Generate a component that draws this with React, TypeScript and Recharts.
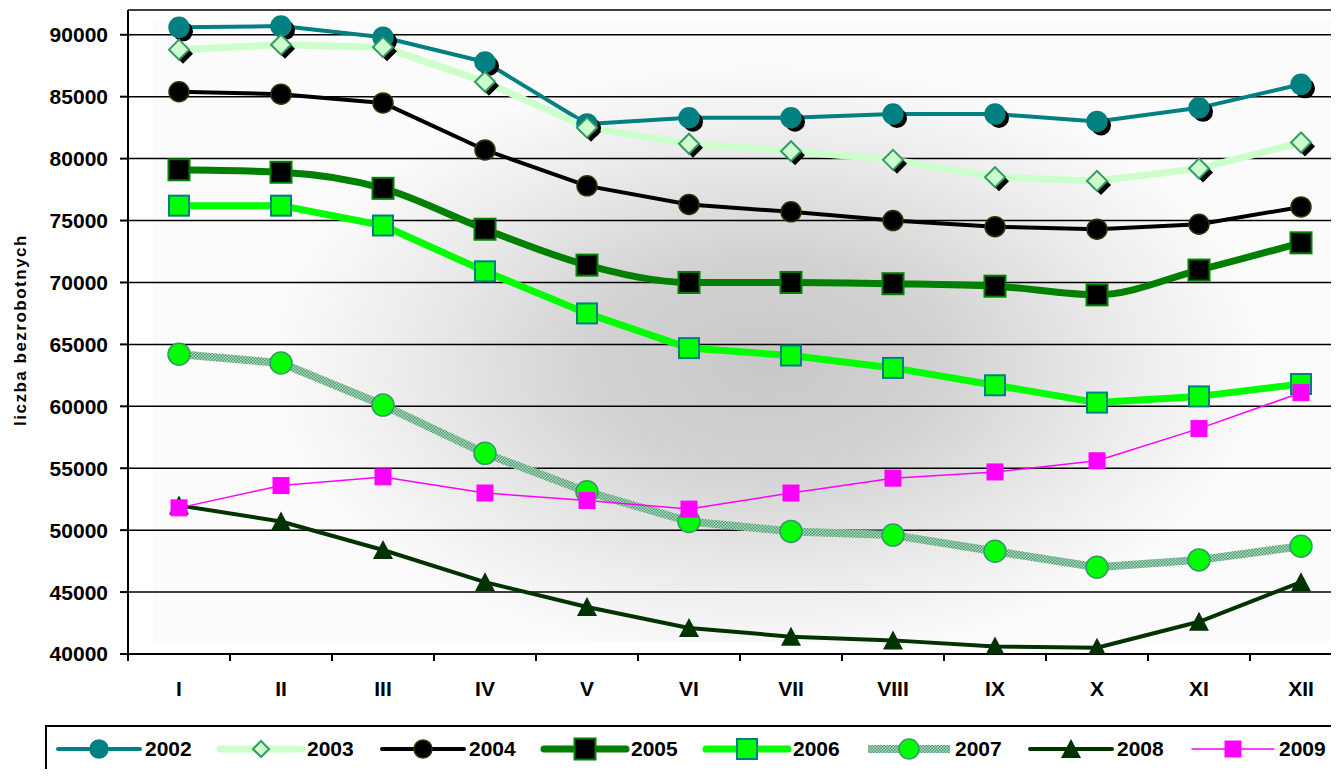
import React from "react";
import { LineChart, Line, XAxis, YAxis, CartesianGrid } from "recharts";

const months = ["I", "II", "III", "IV", "V", "VI", "VII", "VIII", "IX", "X", "XI", "XII"];
const yTicks = [40000, 45000, 50000, 55000, 60000, 65000, 70000, 75000, 80000, 85000, 90000];

const s2002 = [90600, 90700, 89800, 87800, 82800, 83300, 83300, 83600, 83600, 83000, 84100, 86000];
const s2003 = [88800, 89200, 89000, 86200, 82500, 81200, 80600, 79900, 78500, 78200, 79200, 81300];
const s2004 = [85400, 85200, 84500, 80700, 77800, 76300, 75700, 75000, 74500, 74300, 74700, 76100];
const s2005 = [79100, 78900, 77600, 74300, 71400, 70000, 70000, 69900, 69700, 69000, 71000, 73200];
const s2006 = [76200, 76200, 74600, 70900, 67500, 64700, 64100, 63100, 61700, 60300, 60800, 61800];
const s2007 = [64200, 63500, 60100, 56200, 53100, 50700, 49900, 49600, 48300, 47000, 47600, 48700];
const s2008 = [52000, 50700, 48400, 45800, 43800, 42100, 41400, 41100, 40600, 40500, 42600, 45800];
const s2009 = [51800, 53600, 54300, 53000, 52400, 51700, 53000, 54200, 54700, 55600, 58200, 61100];

const data = months.map((label, i) => ({
  m: i,
  label,
  y2002: s2002[i],
  y2003: s2003[i],
  y2004: s2004[i],
  y2005: s2005[i],
  y2006: s2006[i],
  y2007: s2007[i],
  y2008: s2008[i],
  y2009: s2009[i],
}));

// boundary ticks between months plus month centres
const xTicks: number[] = [];
months.forEach((_, i) => {
  xTicks.push(i - 0.5);
  xTicks.push(i);
});
xTicks.push(months.length - 0.5);

const FONT = '"Liberation Sans", Arial, sans-serif';

type Marker = (cx: number, cy: number, k?: any, small?: boolean) => React.ReactElement;

const circle = (fill: string, stroke: string, r: number, shadow: boolean): Marker => (cx, cy, k, small) => (
  <g key={k}>
    {shadow && !small && <circle cx={cx + 4} cy={cy + 4} r={r} fill="#000" />}
    <circle cx={cx} cy={cy} r={small ? r - 1 : r} fill={fill} stroke={stroke} strokeWidth={1.5} />
  </g>
);

const diamond: Marker = (cx, cy, k, small) => {
  const h = small ? 8 : 10;
  const pts = (x: number, y: number) => `${x},${y - h} ${x + h},${y} ${x},${y + h} ${x - h},${y}`;
  return (
    <g key={k}>
      {!small && <polygon points={pts(cx + 4, cy + 4)} fill="#000" />}
      <polygon points={pts(cx, cy)} fill="#ccffcc" stroke="#339966" strokeWidth={2} />
    </g>
  );
};

const square = (fill: string, stroke: string, size: number, sw: number): Marker => (cx, cy, k) => (
  <rect key={k} x={cx - size / 2} y={cy - size / 2} width={size} height={size} fill={fill} stroke={stroke} strokeWidth={sw} />
);

const triangle: Marker = (cx, cy, k) => (
  <polygon key={k} points={`${cx},${cy - 10} ${cx + 10},${cy + 9} ${cx - 10},${cy + 9}`} fill="#003300" />
);

const series = [
  { key: "y2002", name: "2002", color: "#008080", width: 4, marker: circle("#008080", "#008080", 10, true) },
  { key: "y2003", name: "2003", color: "#ccffcc", width: 7, marker: diamond },
  { key: "y2004", name: "2004", color: "#000000", width: 4, marker: circle("#000000", "#333300", 10, false) },
  { key: "y2005", name: "2005", color: "#008000", width: 7, marker: square("#000000", "#008000", 21, 2), curve: "monotone" },
  { key: "y2006", name: "2006", color: "#00ff00", width: 7, marker: square("#00ff00", "#008080", 20, 2) },
  { key: "y2007", name: "2007", color: "url(#p2007)", width: 8, marker: circle("#00ff00", "#339966", 11, false) },
  { key: "y2008", name: "2008", color: "#003300", width: 4, marker: triangle },
  { key: "y2009", name: "2009", color: "#ff00ff", width: 1.5, marker: square("#ff00ff", "#ff00ff", 16, 1) },
];

const XTick = (props: any) => {
  const { x, y, payload } = props;
  const v = payload.value;
  if (!Number.isInteger(v)) {
    return <line x1={x} x2={x} y1={y} y2={y + 7} stroke="#000" strokeWidth={2} />;
  }
  return (
    <text x={x} y={y + 27} dy="0.71em" textAnchor="middle" fontFamily={FONT} fontWeight="bold" fontSize={21} fill="#000">
      {months[v]}
    </text>
  );
};

const Legend = () => (
  <div
    style={{
      position: "absolute",
      left: 45,
      top: 725,
      width: 1287,
      height: 44,
      border: "2px solid #000",
      boxShadow: "3px 3px 0 #000",
      background: "#fff",
      display: "flex",
      alignItems: "center",
      paddingLeft: 7,
      boxSizing: "content-box",
    }}
  >
    {series.map((s) => (
      <div key={s.key} style={{ width: 162, display: "flex", alignItems: "center", flexShrink: 0 }}>
        <svg width={90} height={24} style={{ display: "block" }}>
          <line x1={4} x2={86} y1={12} y2={12} stroke={s.color} strokeWidth={s.width} strokeLinecap={s.key === "y2007" ? "butt" : "round"} />
          {s.marker(45, 12, undefined, true)}
        </svg>
        <span style={{ fontFamily: FONT, fontWeight: "bold", fontSize: 21, color: "#000", marginLeft: 1 }}>{s.name}</span>
      </div>
    ))}
  </div>
);

export default function App() {
  return (
    <div style={{ position: "relative", margin: -8, width: 1339, height: 777, overflow: "hidden", background: "#fff" }}>
      <svg width={0} height={0} style={{ position: "absolute" }}>
        <defs>
          <pattern id="p2007" width={3} height={3} patternUnits="userSpaceOnUse">
            <rect width={3} height={3} fill="#b4dcc4" />
            <rect width={1.5} height={1.5} fill="#4a9a6c" />
            <rect x={1.5} y={1.5} width={1.5} height={1.5} fill="#4a9a6c" />
          </pattern>
        </defs>
      </svg>
      <div
        style={{
          position: "absolute",
          left: 153,
          top: 20,
          width: 1180,
          height: 622,
          background: "radial-gradient(ellipse 42% 48% at 52% 55%, #c8c8c8 0%, #d2d2d2 35%, #ebebeb 72%, #fbfbfb 100%)",
        }}
      />
      <div style={{ position: "absolute", left: 0, top: 0 }}>
        <LineChart width={1360} height={714} data={data} margin={{ top: 10, right: 8, bottom: 0, left: 0 }}>
          <CartesianGrid vertical={false} stroke="#000" strokeWidth={1.5} />
          <XAxis
            dataKey="m"
            type="number"
            domain={[-0.5, months.length - 0.5]}
            ticks={xTicks}
            interval={0}
            allowDataOverflow
            height={60}
            tickLine={false}
            tickSize={0}
            tickMargin={0}
            axisLine={{ stroke: "#000", strokeWidth: 2 }}
            tick={<XTick />}
          />
          <YAxis
            type="number"
            domain={[40000, 92000]}
            ticks={yTicks}
            interval={0}
            allowDataOverflow
            width={128}
            tickSize={8}
            tickMargin={12}
            tickLine={{ stroke: "#000", strokeWidth: 2 }}
            axisLine={{ stroke: "#000", strokeWidth: 2 }}
            tick={{ fontFamily: FONT, fontWeight: "bold", fontSize: 21, fill: "#000" }}
          />
          {series.map((s) => (
            <Line
              key={s.key}
              dataKey={s.key}
              name={s.name}
              type={(s as any).curve || "linear"}
              stroke={s.color}
              strokeWidth={s.width}
              strokeLinejoin="round"
              isAnimationActive={false}
              activeDot={false}
              dot={(p: any) => s.marker(p.cx, p.cy, `${s.key}-${p.index}`)}
            />
          ))}
        </LineChart>
      </div>
      <div
        style={{
          position: "absolute",
          left: 21,
          top: 330,
          transform: "translate(-50%, -50%) rotate(-90deg)",
          fontFamily: FONT,
          fontWeight: "bold",
          fontSize: 17,
          letterSpacing: 1.5,
          whiteSpace: "nowrap",
          color: "#000",
        }}
      >
        liczba bezrobotnych
      </div>
      <Legend />
    </div>
  );
}
